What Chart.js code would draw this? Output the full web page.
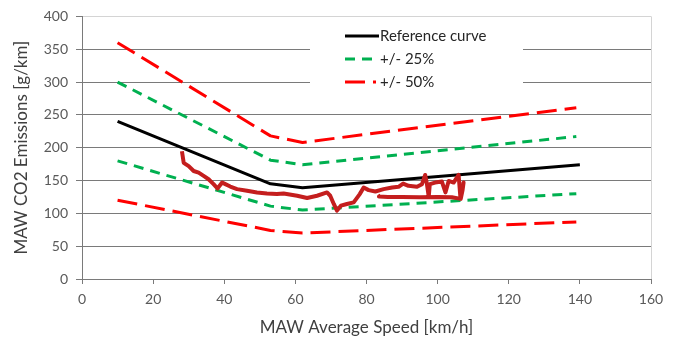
<!DOCTYPE html>
<html>
<head>
<meta charset="utf-8">
<script src="https://cdn.jsdelivr.net/npm/chart.js@4"></script>
<style>
  html, body { margin: 0; background: #fff; }
  #wrap { width: 680px; height: 347px; }
</style>
</head>
<body>
<div id="wrap"><canvas id="c"></canvas></div>
<script>
const FONT = "Lato, 'Open Sans', sans-serif";
const GRID = "#7a7a7a";
const FRAME = "#d4d4d4";
const TICK = "#595959";

// reference curve and tolerance bands (speed km/h -> g/km)
const refSpeed = [10, 53, 62, 140];
const refCo2 = [240, 145, 139, 174];
const bandSpeed = [10, 53, 62, 139];
const plus25 = [300, 181, 174, 217];
const minus25 = [180, 111, 105, 130];
const plus50 = [360, 218, 208, 261];
const minus50 = [120, 74, 70, 87];

// measured moving-average-window trace
const traceSpeed = [28.1, 28.6, 30, 31.4, 32.8, 34.2, 35.6, 37, 38.1, 39.4, 40.3, 41.7, 43.6, 46.4, 49.2, 52, 54.8,
  56.7, 60.5, 63.3, 66.1, 68.9, 69.8, 70.8, 71.7, 72.8, 74.5, 76.4, 78.1, 79.2, 80.6, 82.5, 84.8, 87.2, 89, 90.3,
  91.8, 94.2, 95.6, 96.5, 97, 97.5, 97.8, 99.3, 101.2, 102.2, 103.1, 104.5, 105.9, 106.4, 107.3, 107, 106.5, 104,
  100, 95, 90, 86, 83.5, 84];
const traceCo2 = [194.7, 177, 172, 164.5, 162, 157, 152, 144.5, 137.8, 146.9, 144.5, 140.8, 136.9, 134.3, 131.8, 130.3,
  129.3, 130.3, 126.8, 123.3, 126.8, 131.8, 126.8, 114.3, 104.2, 111.7, 114.3, 116.7, 129.3, 139.3, 135.4, 133.3,
  136.9, 139.3, 140.4, 145.4, 141.9, 140.4, 144.5, 158.5, 144.5, 125.3, 144.5, 146.9, 148.4, 131.8, 149.4, 146.9,
  158.5, 124.3, 146.9, 135, 122, 124.5, 125, 124.5, 125, 124.8, 125.5, 127];

const xTicks = [0, 20, 40, 60, 80, 100, 120, 140, 160];

function pts(xs, ys) {
  return xs.map((x, i) => ({ x, y: ys[i] }));
}

function line(label, xs, ys, color, width, dash, inLegend) {
  return {
    label, data: pts(xs, ys), borderColor: color, borderWidth: width, borderDash: dash,
    pointRadius: 0, tension: 0, fill: false, inLegend, borderJoinStyle: "round", borderCapStyle: "butt",
  };
}

const legendBox = {
  id: "legendBox",
  afterDatasetsDraw(chart) {
    const ctx = chart.ctx;
    ctx.save();
    ctx.fillStyle = "#fff";
    ctx.fillRect(310, 20, 213, 80);
    chart.data.datasets.filter((d) => d.inLegend).forEach((d, i) => {
      const y = 36 + i * 23;
      ctx.strokeStyle = d.borderColor;
      ctx.lineWidth = d.borderWidth;
      ctx.setLineDash(d.borderDash || []);
      ctx.beginPath();
      ctx.moveTo(345, y);
      ctx.lineTo(i === 0 ? 379 : i === 1 ? 373 : 376, y);
      ctx.stroke();
      ctx.setLineDash([]);
      ctx.fillStyle = "#262626";
      ctx.font = "15px " + FONT;
      ctx.textBaseline = "middle";
      ctx.fillText(d.label, 380, y);
    });
    ctx.restore();
  },
};

new Chart(document.getElementById("c"), {
  type: "line",
  data: {
    datasets: [
      line("MAW trace", traceSpeed, traceCo2, "#c41e1e", 4, [], false),
      line("Reference curve", refSpeed, refCo2, "#000000", 3, [], true),
      line("+/- 25%", bandSpeed, plus25, "#00b050", 3, [10, 7], true),
      line("+/- 25% low", bandSpeed, minus25, "#00b050", 3, [10, 7], false),
      line("+/- 50%", bandSpeed, plus50, "#ff0000", 3, [20, 8], true),
      line("+/- 50% low", bandSpeed, minus50, "#ff0000", 3, [20, 8], false),
    ],
  },
  options: {
    responsive: true,
    maintainAspectRatio: false,
    animation: false,
    layout: { padding: { top: 14, right: 29, left: 0, bottom: 0 } },
    plugins: { legend: { display: false }, tooltip: { enabled: false } },
    scales: {
      x: {
        type: "linear", min: 0, max: 160,
        afterBuildTicks: (s) => { s.ticks = xTicks.map((v) => ({ value: v })); },
        afterFit: (s) => { s.height = 68; },
        grid: {
          drawOnChartArea: true, tickLength: 5,
          color: (c) => (c.tick && c.tick.value === 160 ? FRAME : "transparent"),
          tickColor: GRID,
        },
        border: { color: GRID, width: 1 },
        ticks: { color: TICK, padding: 7, font: { family: FONT, size: 14 }, maxRotation: 0 },
        title: {
          display: true, text: "MAW Average Speed [km/h]", color: "#404040",
          font: { family: FONT, size: 17 }, padding: { top: 0, bottom: 9 },
        },
      },
      y: {
        min: 0, max: 400,
        ticks: { stepSize: 50, color: TICK, padding: 8, font: { family: FONT, size: 14 } },
        afterFit: (s) => { s.width = 82; },
        grid: {
          tickLength: 6,
          color: (c) => (c.tick && c.tick.value === 400 ? FRAME : GRID),
          tickColor: GRID,
        },
        border: { color: GRID, width: 1 },
        title: {
          display: true, text: "MAW CO2 Emissions [g/km]", color: "#404040",
          font: { family: FONT, size: 17 }, padding: { top: 11, bottom: 0 },
        },
      },
    },
  },
  plugins: [legendBox],
});
</script>
</body>
</html>
